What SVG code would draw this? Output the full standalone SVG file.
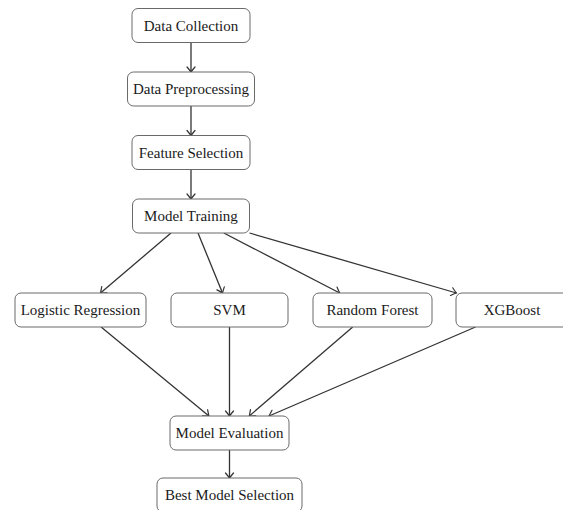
<svg xmlns="http://www.w3.org/2000/svg" width="563" height="510" viewBox="0 0 563 510">
<defs>
<style>
.box{fill:#fff;stroke:#6a6a6a;stroke-width:1}
.lbl{font-family:"Liberation Serif","Times New Roman",serif;font-size:15px;fill:#1a1a1a;text-anchor:middle;dominant-baseline:central}
.edge{fill:none;stroke:#333;stroke-width:1.3;marker-end:url(#arr)}
</style>
<marker id="arr" markerWidth="12" markerHeight="12" viewBox="-7 -6 9 12" refX="0" refY="0" orient="auto" markerUnits="userSpaceOnUse">
<path d="M-5,-4 Q-1,-0.7 0,0 Q-1,0.7 -5,4" fill="none" stroke="#333" stroke-width="1.2" stroke-linecap="round"/>
</marker>
</defs>
<rect width="563" height="510" fill="#fff"/>
<g id="edges">
<line class="edge" x1="191" y1="42.5" x2="191" y2="72"/>
<line class="edge" x1="191" y1="106" x2="191" y2="135.5"/>
<line class="edge" x1="191" y1="169.5" x2="191" y2="199"/>
<line class="edge" x1="171" y1="233" x2="100.5" y2="293"/>
<line class="edge" x1="198" y1="233" x2="222.5" y2="293"/>
<line class="edge" x1="223.8" y1="233" x2="339.7" y2="293"/>
<line class="edge" x1="249.5" y1="233" x2="456.4" y2="293"/>
<line class="edge" x1="101.1" y1="327" x2="208.9" y2="416"/>
<line class="edge" x1="229.5" y1="327" x2="229.5" y2="416"/>
<line class="edge" x1="352.7" y1="327" x2="249.3" y2="416"/>
<line class="edge" x1="475.5" y1="327" x2="269" y2="416"/>
<line class="edge" x1="229.5" y1="450" x2="229.5" y2="478"/>
</g>
<g id="data-collection"><rect class="box" x="132" y="8.5" width="118" height="34" rx="6"/><text class="lbl" x="191" y="25.5">Data Collection</text></g>
<g id="data-preprocessing"><rect class="box" x="127.5" y="72" width="127" height="34" rx="6"/><text class="lbl" x="191" y="89">Data Preprocessing</text></g>
<g id="feature-selection"><rect class="box" x="132" y="135.5" width="118" height="34" rx="6"/><text class="lbl" x="191" y="152.5">Feature Selection</text></g>
<g id="model-training"><rect class="box" x="132.5" y="199" width="117" height="34" rx="6"/><text class="lbl" x="191" y="216">Model Training</text></g>
<g id="logistic-regression"><rect class="box" x="15" y="293" width="131" height="34" rx="6"/><text class="lbl" x="80.5" y="310">Logistic Regression</text></g>
<g id="svm"><rect class="box" x="171" y="293" width="117" height="34" rx="6"/><text class="lbl" x="229.5" y="310">SVM</text></g>
<g id="random-forest"><rect class="box" x="313" y="293" width="119" height="34" rx="6"/><text class="lbl" x="372.5" y="310">Random Forest</text></g>
<g id="xgboost"><rect class="box" x="456" y="293" width="118" height="34" rx="6"/><text class="lbl" x="512" y="310">XGBoost</text></g>
<g id="model-evaluation"><rect class="box" x="170" y="416" width="119" height="34" rx="6"/><text class="lbl" x="229.5" y="433">Model Evaluation</text></g>
<g id="best-model-selection"><rect class="box" x="157" y="478" width="145" height="34" rx="6"/><text class="lbl" x="229.5" y="495">Best Model Selection</text></g>
</svg>
